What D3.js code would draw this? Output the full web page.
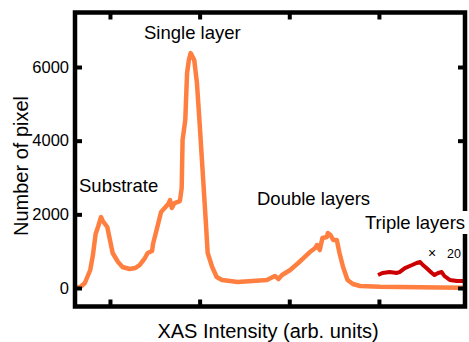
<!DOCTYPE html>
<head>
  <meta charset="utf-8">
  <title>XAS intensity histogram</title>
  <script src="https://d3js.org/d3.v7.min.js"></script>
  <style>
    body { margin: 0; background: #fff; }
    text { font-family: "Liberation Sans", Arial, sans-serif; fill: #000; }
  </style>
</head>
<body>
<svg width="469" height="342"></svg>

<script type="text/javascript">

// intensity (arb. units) and pixel counts
var intensity = [0.61, 0.67, 0.72, 0.78, 0.81, 0.84, 0.87, 0.90, 0.92, 0.97,
  1.00, 1.03, 1.09, 1.14, 1.22, 1.28, 1.33, 1.39, 1.42, 1.47,
  1.48, 1.52, 1.57, 1.61, 1.65, 1.67, 1.69, 1.72, 1.78, 1.80,
  1.81, 1.84, 1.86, 1.88, 1.90, 1.94, 1.97, 2.00, 2.04, 2.07,
  2.09, 2.14, 2.19, 2.25, 2.34, 2.42, 2.59, 2.75, 2.84, 2.88,
  2.92, 3.01, 3.10, 3.17, 3.23, 3.29, 3.31, 3.34, 3.37, 3.42,
  3.43, 3.46, 3.49, 3.53, 3.56, 3.60, 3.65, 3.71, 3.79, 4.01,
  4.23, 4.46, 4.68, 4.97];
var pixels = [0, 27, 136, 489, 896, 1466, 1683, 1927, 1819, 1656,
  1303, 950, 706, 570, 516, 543, 624, 814, 950, 1004,
  1194, 1574, 2063, 2171, 2280, 2388, 2171, 2307, 2361, 2714,
  4017, 4560, 5835, 6188, 6378, 6188, 5564, 4479, 2931, 1764,
  950, 570, 299, 217, 190, 163, 190, 217, 326, 244,
  353, 489, 679, 841, 977, 1086, 1167, 1031, 1357, 1384,
  1493, 1438, 1303, 1303, 950, 570, 217, 109, 54, 35,
  30, 22, 15, 10];

// triple layers, shown multiplied by 20
var tripleFactor = 20;
var tripleIntensity = [3.99, 4.04, 4.12, 4.20, 4.23, 4.29, 4.37, 4.42, 4.46, 4.49,
  4.53, 4.59, 4.62, 4.66, 4.70, 4.73, 4.79, 4.87, 4.98];
var triplePixels = [17.6, 20.4, 21.7, 20.4, 21.7, 27.1, 31.2, 34.0, 35.3, 31.2,
  27.1, 20.4, 17.6, 20.4, 21.7, 16.3, 10.9, 9.5, 9.5];

var yTicks = [0, 2000, 4000, 6000];
var xTicks = [1, 2, 3, 4];

var pLeft = 75, pRight = 465, pTop = 12.5, pBottom = 306.5;

var svg = d3.select("svg");

var x = d3.scaleLinear().domain([0.61, 4.96]).range([pLeft, pRight]);
var y = d3.scaleLinear().domain([-502, 7480]).range([pBottom, pTop]);

svg.append("clipPath").attr("id", "plot")
  .append("rect")
    .attr("x", pLeft).attr("y", pTop)
    .attr("width", pRight - pLeft).attr("height", pBottom - pTop);

var line = d3.line()
  .x(function(d) { return x(d[0]); })
  .y(function(d) { return y(d[1]); });

svg.append("path")
  .datum(d3.zip(intensity, pixels))
  .attr("clip-path", "url(#plot)")
  .attr("d", line)
  .attr("fill", "none")
  .attr("stroke", "#ff7f40")
  .attr("stroke-width", 4.5)
  .attr("stroke-linejoin", "round");

svg.append("path")
  .datum(d3.zip(tripleIntensity, triplePixels.map(function(v) { return v * tripleFactor; })))
  .attr("clip-path", "url(#plot)")
  .attr("d", line)
  .attr("fill", "none")
  .attr("stroke", "#cc0000")
  .attr("stroke-width", 4)
  .attr("stroke-linejoin", "round");

// axes, ticks pointing inward
function styleAxis(g) {
  g.select(".domain").remove();
  g.selectAll(".tick line").attr("stroke", "#000").attr("stroke-width", 4);
  g.selectAll(".tick text").style("font-size", "16.5px")
    .style("font-family", "'Liberation Sans', Arial, sans-serif");
}

svg.append("g").attr("transform", "translate(" + pLeft + ",0)")
  .call(d3.axisLeft(y).tickValues(yTicks).tickSize(-7).tickPadding(6).tickFormat(d3.format("d")))
  .call(styleAxis);
svg.append("g").attr("transform", "translate(" + pRight + ",0)")
  .call(d3.axisRight(y).tickValues(yTicks).tickSize(-7).tickFormat(""))
  .call(styleAxis);
svg.append("g").attr("transform", "translate(0," + pBottom + ")")
  .call(d3.axisBottom(x).tickValues(xTicks).tickSize(-7).tickFormat(""))
  .call(styleAxis);
svg.append("g").attr("transform", "translate(0," + pTop + ")")
  .call(d3.axisTop(x).tickValues(xTicks).tickSize(-7).tickFormat(""))
  .call(styleAxis);

svg.append("rect")
  .attr("x", pLeft).attr("y", pTop)
  .attr("width", pRight - pLeft).attr("height", pBottom - pTop)
  .attr("fill", "none")
  .attr("stroke", "#000")
  .attr("stroke-width", 4.5);

// labels
svg.append("text")
  .attr("x", (pLeft + pRight) / 2 - 2).attr("y", 338)
  .attr("text-anchor", "middle")
  .style("font-size", "20px")
  .text("XAS Intensity (arb. units)");

svg.append("text")
  .attr("transform", "translate(28,166) rotate(-90)")
  .attr("text-anchor", "middle")
  .style("font-size", "20px")
  .text("Number of pixel");

svg.append("text").attr("x", 144).attr("y", 39).style("font-size", "18.5px").text("Single layer");
svg.append("text").attr("x", 79).attr("y", 192).style("font-size", "18.5px").text("Substrate");
svg.append("text").attr("x", 257).attr("y", 205).style("font-size", "18.5px").text("Double layers");

svg.append("rect")
  .attr("x", 362).attr("y", 211).attr("width", 107).attr("height", 23)
  .attr("fill", "#fff");
svg.append("text").attr("x", 365).attr("y", 229).style("font-size", "18.5px").text("Triple layers");

svg.append("text").attr("x", 428).attr("y", 258).style("font-size", "14px").text("\u00d7");
svg.append("text").attr("x", 447).attr("y", 258).style("font-size", "12.5px").text(tripleFactor);

</script>
</body>
</html>
